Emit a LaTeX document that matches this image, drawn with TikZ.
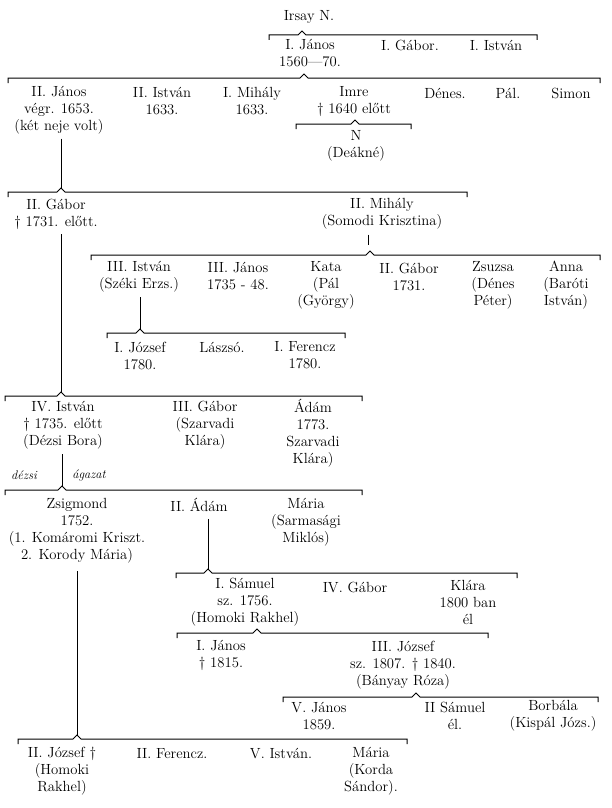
\documentclass[tikz,border=0pt]{standalone}
\usepackage{fontspec}
\newcommand\fsz{\fontsize{14.7}{17}\selectfont}
\tikzset{
  p/.style={align=center, inner sep=0pt, font=\fsz},
  itl/.style={inner sep=0pt, font=\fontsize{12.5}{14}\selectfont\itshape},
  br/.style={line width=1pt, line join=miter},
  ln/.style={line width=1pt},
}
% bracket: x-left, x-right, y, x-caret, name of caret apex
\newcommand\fbr[5]{%
  \coordinate (#5) at (#4,#3-4);
  \draw[br] (#1,#3+5) -- (#1,#3) -- (#4-4,#3) -- (#5) -- (#4+4,#3) -- (#2,#3) -- (#2,#3+5);
}
\begin{document}
\begin{tikzpicture}[x=1pt,y=-1pt]
\useasboundingbox (0,0) rectangle (611,808);

\node[p] (irsay) at (309,17) {Irsay N.};
\fbr{269}{537}{35}{302}{cA}
\node[p] (janosI) at (310,53.5) {I. János\\1560—70.};
\node[p] (gaborI) at (410,45) {I. Gábor.};
\node[p] (istvanI) at (496,45) {I. István};

\fbr{8}{600}{78}{304}{cB}
\node[p] (janosII) at (59,110.5) {II. János\\végr. 1653.\\(két neje volt)};
\node[p] (istvanII) at (162,101.5) {II. István\\1633.};
\node[p] (mihalyI) at (252,101.5) {I. Mihály\\1633.};
\node[p] (imre) at (354,101.5) {Imre\\† 1640 előtt};
\node[p] (denes) at (445,93) {Dénes.};
\node[p] (palI) at (508,93) {Pál.};
\node[p] (simon) at (571,93) {Simon};
\fbr{296}{411}{124}{355}{cImre}
\node[p] (ndeak) at (356,146) {N\\(Deákné)};

\fbr{8}{467}{192}{61}{cC}
\draw[ln] ([yshift=-4pt]janosII.south -| cC) -- (cC);
\node[p] (gaborII) at (56,214) {II. Gábor\\† 1731. előtt.};
\node[p] (mihalyII) at (382,214) {II. Mihály\\(Somodi Krisztina)};
\coordinate (stub) at (368,245);
\draw[ln] ([yshift=-5pt]mihalyII.south -| stub) -- (stub);

\fbr{91}{600}{255}{370}{cD}
\node[p] (istvanIII) at (139,276.5) {III. István\\(Széki Erzs.)};
\node[p] (janosIII) at (238,276.5) {III. János\\1735 - 48.};
\node[p] (kata) at (326,285) {Kata\\(Pál\\(György)};
\node[p] (gaborIII) at (409,276.5) {II. Gábor\\1731.};
\node[p] (zsuzsa) at (493,285) {Zsuzsa\\(Dénes\\Péter)};
\node[p] (anna) at (566,285) {Anna\\(Baróti\\István)};

\fbr{107}{345}{333}{140}{cE}
\draw[ln] ([yshift=-5pt]istvanIII.south -| cE) -- (cE);
\node[p] (jozsefI) at (140,355.5) {I. József\\1780.};
\node[p] (laszlo) at (222,347) {Lászsó.};
\node[p] (ferenczI) at (305,355.5) {I. Ferencz\\1780.};

\fbr{5}{362}{396}{61}{cF}
\draw[ln] ([yshift=-5pt]gaborII.south -| cF) -- (cF);
\node[p] (istvanIV) at (63,425) {IV. István\\† 1735. előtt\\(Dézsi Bora)};
\node[p] (gaborIV) at (205,425) {III. Gábor\\(Szarvadi\\Klára)};
\node[p] (adamI) at (313,433.5) {Ádám\\1773.\\Szarvadi\\Klára)};

\fbr{5}{362}{490}{62}{cG}
\draw[ln] ([yshift=-5pt]istvanIV.south -| cG) -- (cG);
\node[itl] (dezsi) at (24,475) {dézsi};
\node[itl] (agazat) at (89,475) {ágazat};
\node[p] (zsigmond) at (77,530.5) {Zsigmond\\1752.\\(1. Komáromi Kriszt.\\2. Korody Mária)};
\node[p] (adamII) at (199,505) {II. Ádám};
\node[p] (mariaI) at (306,522) {Mária\\(Sarmasági\\Miklós)};

\fbr{176}{517}{573}{208}{cH}
\draw[ln] ([yshift=-7pt]adamII.south -| cH) -- (cH);
\node[p] (samuelI) at (245,602) {I. Sámuel\\sz. 1756.\\(Homoki Rakhel)};
\node[p] (gaborV) at (355,587) {IV. Gábor};
\node[p] (klara) at (468,602) {Klára\\1800 ban\\él};

\fbr{177}{488}{633}{257}{cI}
\node[p] (janosIV) at (221,655) {I. János\\† 1815.};
\node[p] (jozsefIII) at (403,665) {III. József\\sz. 1807. † 1840.\\(Bányay Róza)};

\fbr{283}{598}{697}{416}{cJ}
\node[p] (janosV) at (319,716) {V. János\\1859.};
\node[p] (samuelII) at (455,716) {II Sámuel\\él.};
\node[p] (borbala) at (553,716) {Borbála\\(Kispál Józs.)};

\fbr{18}{407}{739}{77}{cK}
\draw[ln] ([yshift=-8pt]zsigmond.south -| cK) -- (cK);
\node[p] (jozsefII) at (62,771) {II. József †\\(Homoki\\Rakhel)};
\node[p] (ferenczII) at (172,754) {II. Ferencz.};
\node[p] (istvanV) at (281,754) {V. István.};
\node[p] (mariaII) at (371,771) {Mária\\(Korda\\Sándor).};
\end{tikzpicture}
\end{document}
